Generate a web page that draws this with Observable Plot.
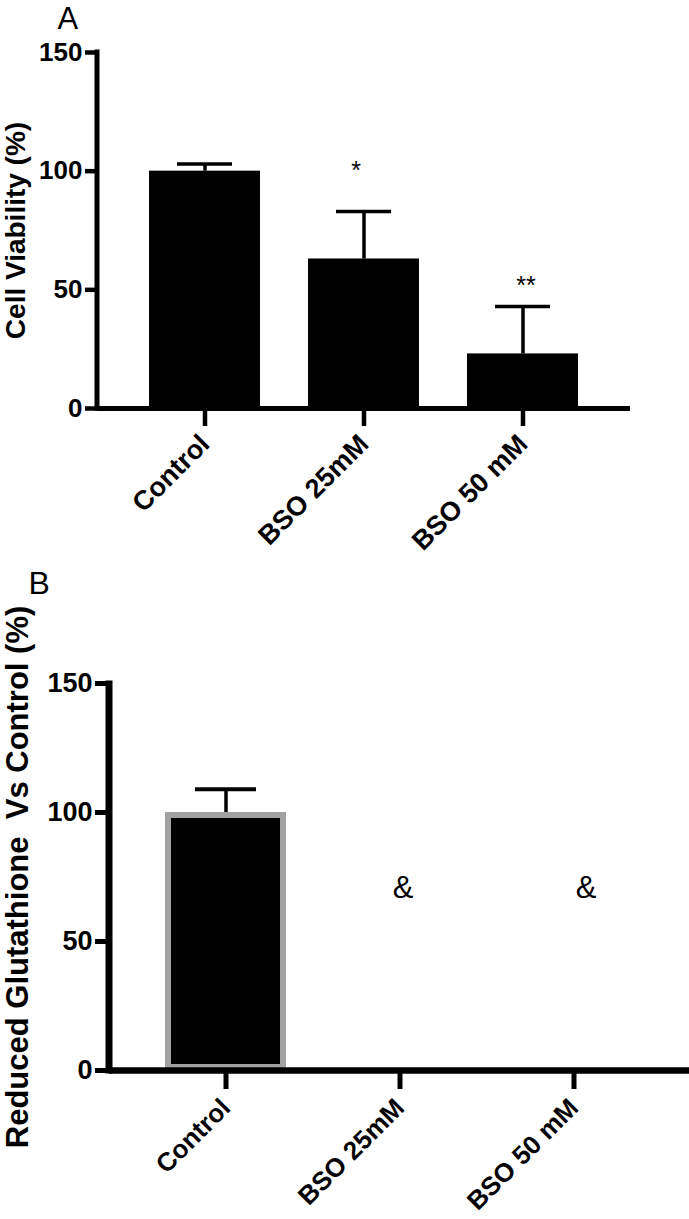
<!DOCTYPE html>
<html><head><meta charset="utf-8">
<script src="https://cdn.jsdelivr.net/npm/d3@7"></script>
<script src="https://cdn.jsdelivr.net/npm/@observablehq/plot@0.6"></script>
<style>
body{margin:0;background:#fff;}
#chart{width:689px;}
#chart svg{display:block;}
</style></head><body><div id="chart"></div>
<script>
// ---- data ----
const groups = ["Control", "BSO 25mM", "BSO 50 mM"];
const viabilityMean = [100, 63, 23];
const viabilitySem = [3, 20, 20];
const viabilityStars = ["", "*", "**"];
const gshMean = [100, 0, 0];
const gshSem = [9, 0, 0];
const gshMarks = ["", "&", "&"];
const yTicks = [0, 50, 100, 150];
const yDomain = [0, 150];

const dataA = groups.map((g, i) => ({group: g, mean: viabilityMean[i], hi: viabilityMean[i] + viabilitySem[i], mark: viabilityStars[i]}));
const dataB = groups.map((g, i) => ({group: g, mean: gshMean[i], hi: gshMean[i] + gshSem[i], mark: gshMarks[i]}));

const FONT = "'Liberation Sans', Arial, Helvetica, sans-serif";

// vertical axis line drawn at the left edge of the frame using the y scale
function yAxisLine(sw) {
  return (...args) => {
    const scales = args.find(a => a && typeof a.y === "function");
    const dims = args.find(a => a && typeof a.marginLeft === "number");
    const y = scales.y;
    const x = dims.marginLeft;
    const g = d3.create("svg:g");
    g.append("line")
      .attr("x1", x).attr("x2", x)
      .attr("y1", y(yDomain[0]) + sw / 2)
      .attr("y2", y(yDomain[1]) - 2.5)
      .attr("stroke", "black").attr("stroke-width", sw);
    return g.node();
  };
}

const plotA = Plot.plot({
  width: 689, height: 560,
  marginTop: 52, marginBottom: 152, marginLeft: 97, marginRight: 59,
  style: {fontFamily: FONT, background: "white", color: "black"},
  x: {domain: groups, paddingInner: 0.305, paddingOuter: 0.319, axis: null},
  y: {domain: yDomain, axis: null},
  marks: [
    Plot.barY(dataA, {x: "group", y: "mean", fill: "black"}),
    Plot.ruleX(dataA, {x: "group", y1: "mean", y2: "hi", stroke: "black", strokeWidth: 3.5}),
    Plot.tickY(dataA, {x: "group", y: "hi", stroke: "black", strokeWidth: 3.5, insetLeft: 28, insetRight: 28}),
    Plot.ruleY([0], {stroke: "black", strokeWidth: 5}),
    yAxisLine(5),
    Plot.axisY({ticks: yTicks, tickSize: 12, tickPadding: 3, strokeWidth: 4.5, fontSize: 26, fontWeight: "bold", label: null}),
    Plot.axisX({tickSize: 18, tickPadding: 13, strokeWidth: 4.5, tickRotate: -45, fontSize: 27, fontWeight: "bold", label: null}),
    Plot.text(dataA.filter(d => d.mark === "*"), {x: "group", y: "hi", text: "mark", fontSize: 25, lineAnchor: "bottom", dx: -8, dy: -33}),
    Plot.text(dataA.filter(d => d.mark === "**"), {x: "group", y: "hi", text: "mark", fontSize: 25, lineAnchor: "bottom", dx: 3, dy: -12}),
    Plot.text(["Cell Viability (%)"], {frameAnchor: "left", rotate: -90, fontSize: 28, fontWeight: "bold", dx: -81, textAnchor: "middle", lineAnchor: "middle"}),
    Plot.text(["A"], {frameAnchor: "top-left", fontSize: 31, textAnchor: "start", lineAnchor: "bottom", dx: -40, dy: -24})
  ]
});

const plotB = Plot.plot({
  width: 689, height: 659,
  marginTop: 123, marginBottom: 149, marginLeft: 109, marginRight: 0,
  style: {fontFamily: FONT, background: "white", color: "black"},
  x: {domain: groups, paddingInner: 0.305, paddingOuter: 0.319, axis: null},
  y: {domain: yDomain, axis: null},
  marks: [
    Plot.barY(dataB.filter(d => d.mean > 0), {x: "group", y: "mean", fill: "black", stroke: "#a2a2a2", strokeWidth: 6, inset: 3}),
    Plot.ruleX(dataB.filter(d => d.hi > d.mean), {x: "group", y1: "mean", y2: "hi", stroke: "black", strokeWidth: 3.5}),
    Plot.tickY(dataB.filter(d => d.hi > d.mean), {x: "group", y: "hi", stroke: "black", strokeWidth: 4, insetLeft: 30, insetRight: 30}),
    Plot.ruleY([0], {stroke: "black", strokeWidth: 6.5}),
    yAxisLine(7),
    Plot.axisY({ticks: yTicks, tickSize: 14, tickPadding: 3, strokeWidth: 5, fontSize: 27, fontWeight: "bold", label: null}),
    Plot.axisX({tickSize: 19, tickPadding: 14, strokeWidth: 5, tickRotate: -45, fontSize: 26, fontWeight: "bold", label: null}),
    Plot.text(dataB.filter((d, i) => i === 1), {x: "group", y: "mean", text: "mark", fontSize: 31, lineAnchor: "bottom", dx: 3, dy: -173}),
    Plot.text(dataB.filter((d, i) => i === 2), {x: "group", y: "mean", text: "mark", fontSize: 31, lineAnchor: "bottom", dx: 12, dy: -173}),
    Plot.text(["Reduced Glutathione\u00a0 Vs Control (%)"], {frameAnchor: "left", rotate: -90, fontSize: 31, fontWeight: "bold", dx: -91, textAnchor: "middle", lineAnchor: "middle"}),
    Plot.text(["B"], {frameAnchor: "top-left", fontSize: 32, textAnchor: "start", lineAnchor: "bottom", dx: -81, dy: -90})
  ]
});

const chart = document.getElementById("chart");
chart.appendChild(plotA);
chart.appendChild(plotB);
</script>
</body></html>
